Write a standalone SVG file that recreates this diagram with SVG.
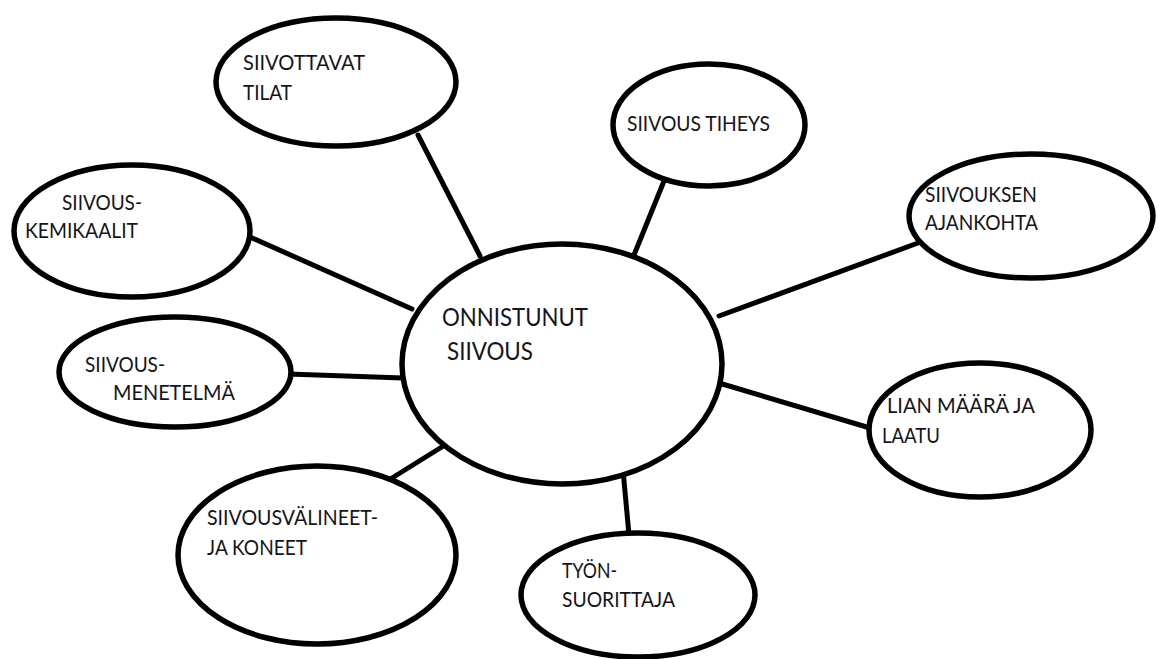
<svg xmlns="http://www.w3.org/2000/svg" width="1158" height="659" viewBox="0 0 1158 659">
<style>
.n{fill:#fff;stroke:#000;stroke-width:5.5}
.c line{stroke:#000;stroke-width:5;stroke-linecap:round}
text{font-family:Lato,"Open Sans","Liberation Sans",sans-serif;font-size:21px;fill:#14141c}
.big{font-size:25px}
</style>
<rect width="1158" height="659" fill="#fff"/>
<g class="c" id="connectors">
<line x1="418" y1="135" x2="480" y2="256"/>
<line x1="664" y1="181" x2="634" y2="255"/>
<line x1="719" y1="316" x2="918" y2="243"/>
<line x1="719" y1="383" x2="870" y2="428"/>
<line x1="622" y1="459" x2="629" y2="535"/>
<line x1="453" y1="440" x2="392" y2="478"/>
<line x1="288" y1="374" x2="403" y2="378"/>
<line x1="250" y1="237" x2="412" y2="309"/>
</g>
<g id="center">
<ellipse class="n" cx="562" cy="364" rx="160" ry="120"/>
<text class="big" x="442" y="326" textLength="146" lengthAdjust="spacingAndGlyphs">ONNISTUNUT</text>
<text class="big" x="447" y="360" textLength="86" lengthAdjust="spacingAndGlyphs">SIIVOUS</text>
</g>
<g id="tilat">
<ellipse class="n" cx="336" cy="82" rx="120" ry="64"/>
<text x="243" y="70" textLength="122" lengthAdjust="spacingAndGlyphs">SIIVOTTAVAT</text>
<text x="243" y="100" textLength="49" lengthAdjust="spacingAndGlyphs">TILAT</text>
</g>
<g id="tiheys">
<ellipse class="n" cx="709" cy="125" rx="96" ry="61"/>
<text x="627" y="131" textLength="143" lengthAdjust="spacingAndGlyphs">SIIVOUS TIHEYS</text>
</g>
<g id="ajankohta">
<ellipse class="n" cx="1031" cy="216" rx="122" ry="62"/>
<text x="925" y="202" textLength="112" lengthAdjust="spacingAndGlyphs">SIIVOUKSEN</text>
<text x="925" y="230" textLength="113" lengthAdjust="spacingAndGlyphs">AJANKOHTA</text>
</g>
<g id="lian">
<ellipse class="n" cx="980" cy="430" rx="111" ry="67"/>
<text x="887" y="413" textLength="148" lengthAdjust="spacingAndGlyphs">LIAN MÄÄRÄ JA</text>
<text x="882" y="443" textLength="58" lengthAdjust="spacingAndGlyphs">LAATU</text>
</g>
<g id="tyon">
<ellipse class="n" cx="638" cy="595" rx="117" ry="62"/>
<text x="562" y="578" textLength="55" lengthAdjust="spacingAndGlyphs">TYÖN-</text>
<text x="562" y="607" textLength="113" lengthAdjust="spacingAndGlyphs">SUORITTAJA</text>
</g>
<g id="valineet">
<ellipse class="n" cx="317" cy="555" rx="139" ry="89"/>
<text x="207" y="525" textLength="171" lengthAdjust="spacingAndGlyphs">SIIVOUSVÄLINEET-</text>
<text x="207" y="555" textLength="100" lengthAdjust="spacingAndGlyphs">JA KONEET</text>
</g>
<g id="menetelma">
<ellipse class="n" cx="175" cy="372" rx="116" ry="55"/>
<text x="85" y="372" textLength="80" lengthAdjust="spacingAndGlyphs">SIIVOUS-</text>
<text x="113" y="400" textLength="122" lengthAdjust="spacingAndGlyphs">MENETELMÄ</text>
</g>
<g id="kemikaalit">
<ellipse class="n" cx="132" cy="231" rx="118" ry="66"/>
<text x="62" y="210" textLength="80" lengthAdjust="spacingAndGlyphs">SIIVOUS-</text>
<text x="25" y="238" textLength="113" lengthAdjust="spacingAndGlyphs">KEMIKAALIT</text>
</g>
</svg>
